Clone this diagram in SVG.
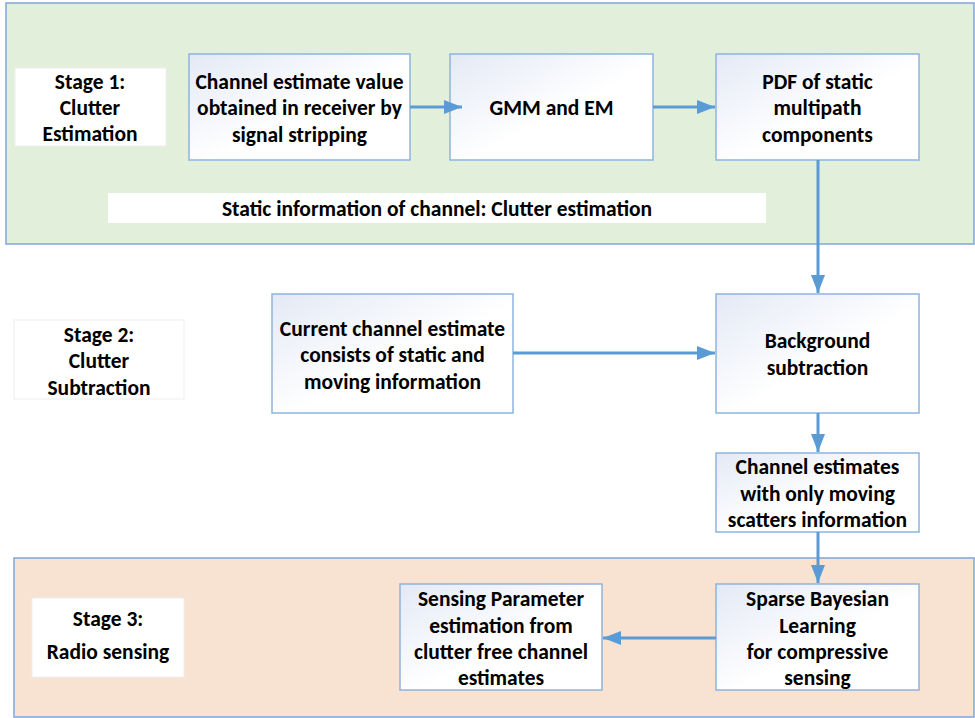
<svg xmlns="http://www.w3.org/2000/svg" width="975" height="718" viewBox="0 0 975 718">
<defs>
<linearGradient id="bx" x1="0" y1="0" x2="1" y2="1">
<stop offset="0" stop-color="#E3E9F5"/>
<stop offset="0.55" stop-color="#FFFFFF"/>
<stop offset="1" stop-color="#FFFFFF"/>
</linearGradient>
<marker id="ah" markerUnits="userSpaceOnUse" markerWidth="20" markerHeight="14" refX="18" refY="7" orient="auto">
<path d="M0,0 L18,7 L0,14 z" fill="#5B9BD5"/>
</marker>
<style>
.panel{stroke:#7FA7D8;stroke-width:1.5}
.box{fill:url(#bx);stroke:#8DB4E0;stroke-width:1.5}
.lbl{fill:#FFFFFF;stroke:#EEEEEE;stroke-width:1}
.t{font-family:Carlito,Lato,"Liberation Sans",sans-serif;font-weight:bold;font-size:21.5px;fill:#000;text-anchor:middle}
.c{fill:none;stroke:#5B9BD5;stroke-width:3;marker-end:url(#ah)}
</style>
</defs>
<rect width="975" height="718" fill="#FFFFFF"/>
<g id="panel1">
<rect class="panel" x="6" y="3" width="968" height="241" fill="#E2EFDA"/>
</g>
<g id="panel3">
<rect class="panel" x="14" y="558" width="960" height="159" fill="#F8E3D3"/>
</g>
<g id="stage1">
<rect class="lbl" x="15" y="68" width="151" height="78" stroke="none"/>
<text class="t" x="90" y="89">Stage 1:</text>
<text class="t" x="90" y="115">Clutter</text>
<text class="t" x="90" y="141">Estimation</text>
</g>
<g id="n1">
<rect class="box" x="189" y="54" width="221" height="106"/>
<text class="t" x="299.5" y="89">Channel estimate value</text>
<text class="t" x="299.5" y="115">obtained in receiver by</text>
<text class="t" x="299.5" y="142">signal stripping</text>
</g>
<g id="n2">
<rect class="box" x="450" y="54" width="203" height="106"/>
<text class="t" x="551.5" y="115">GMM and EM</text>
</g>
<g id="n3">
<rect class="box" x="716" y="54" width="203" height="106"/>
<text class="t" x="817.5" y="89">PDF of static</text>
<text class="t" x="817.5" y="115">multipath</text>
<text class="t" x="817.5" y="142">components</text>
</g>
<g id="static">
<rect x="108" y="193" width="658" height="30" fill="#FFFFFF"/>
<text class="t" x="437" y="216">Static information of channel: Clutter estimation</text>
</g>
<g id="stage2">
<rect class="lbl" x="14" y="320" width="170" height="79"/>
<text class="t" x="99" y="342">Stage 2:</text>
<text class="t" x="99" y="368">Clutter</text>
<text class="t" x="99" y="395">Subtraction</text>
</g>
<g id="n4">
<rect class="box" x="272" y="294" width="241" height="119"/>
<text class="t" x="392.5" y="336">Current channel estimate</text>
<text class="t" x="392.5" y="362">consists of static and</text>
<text class="t" x="392.5" y="389">moving information</text>
</g>
<g id="n5">
<rect class="box" x="716" y="294" width="203" height="119"/>
<text class="t" x="817.5" y="348">Background</text>
<text class="t" x="817.5" y="375">subtraction</text>
</g>
<g id="n6">
<rect class="box" x="716" y="453" width="203" height="79"/>
<text class="t" x="817.5" y="474">Channel estimates</text>
<text class="t" x="817.5" y="501">with only moving</text>
<text class="t" x="817.5" y="527">scatters information</text>
</g>
<g id="stage3">
<rect class="lbl" x="32" y="598" width="152" height="79" stroke="none"/>
<text class="t" x="108" y="626">Stage 3:</text>
<text class="t" x="108" y="659">Radio sensing</text>
</g>
<g id="n7">
<rect class="box" x="400" y="584" width="202" height="106"/>
<text class="t" x="501" y="606">Sensing Parameter</text>
<text class="t" x="501" y="633">estimation from</text>
<text class="t" x="501" y="659">clutter free channel</text>
<text class="t" x="501" y="685">estimates</text>
</g>
<g id="n8">
<rect class="box" x="716" y="584" width="203" height="106"/>
<text class="t" x="817.5" y="606">Sparse Bayesian</text>
<text class="t" x="817.5" y="633">Learning</text>
<text class="t" x="817.5" y="659">for compressive</text>
<text class="t" x="817.5" y="685">sensing</text>
</g>
<g id="connectors">
<line class="c" x1="410" y1="107" x2="462" y2="107"/>
<line class="c" x1="653" y1="107" x2="715" y2="107"/>
<line class="c" x1="818" y1="160" x2="818" y2="293"/>
<line class="c" x1="513" y1="353" x2="715" y2="353"/>
<line class="c" x1="818" y1="413" x2="818" y2="452"/>
<line class="c" x1="818" y1="532" x2="818" y2="583"/>
<line class="c" x1="716" y1="638" x2="603" y2="638"/>
</g>
</svg>
